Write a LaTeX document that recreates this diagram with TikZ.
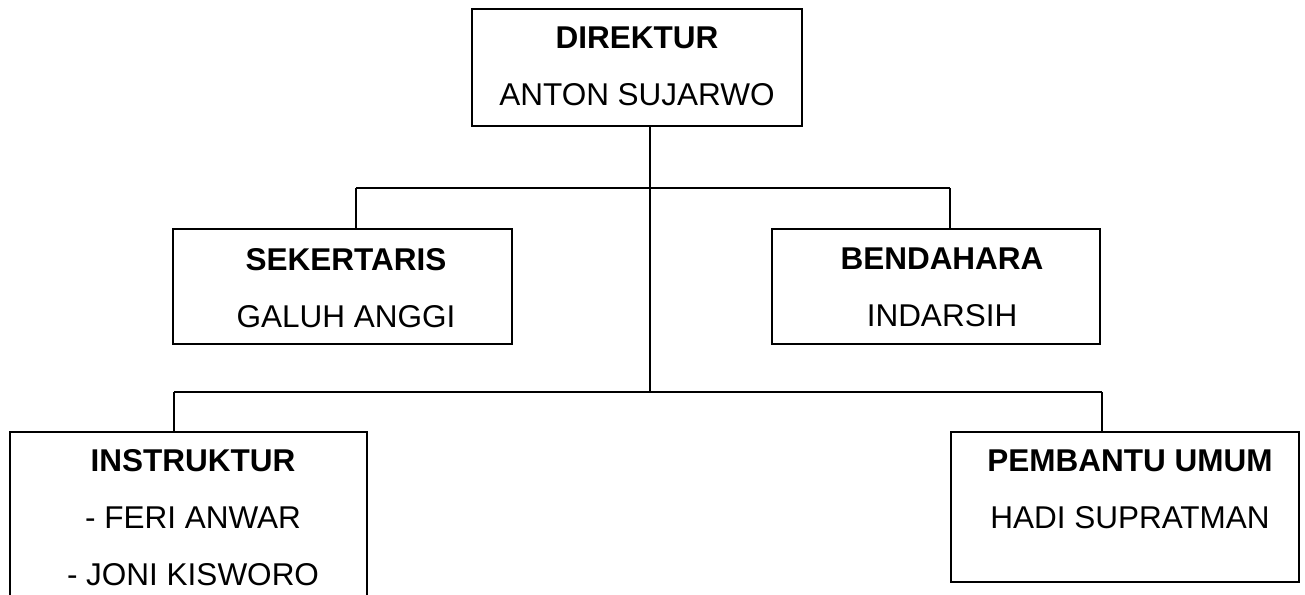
\documentclass[tikz,border=0pt]{standalone}
\usepackage{fontspec}
\setmainfont{Liberation Sans}
\begin{document}
\begin{tikzpicture}[x=1pt,y=-1pt,
  orgbox/.style={draw, line width=1.5pt, rectangle, inner sep=0pt, outer sep=0pt, anchor=north west},
  orgtext/.style={font=\fontsize{31.5}{57}\selectfont, align=center, inner sep=0pt, anchor=north},
  conn/.style={line width=1.5pt}]
\useasboundingbox (0,0) rectangle (1305,594);
% boxes
\node[orgbox, minimum width=330pt, minimum height=117pt] (dir) at (472,9) {};
\node[orgbox, minimum width=339pt, minimum height=115pt] (sek) at (173,229) {};
\node[orgbox, minimum width=328pt, minimum height=115pt] (ben) at (772,229) {};
\node[orgbox, minimum width=357pt, minimum height=200pt] (ins) at (10,432) {};
\node[orgbox, minimum width=348pt, minimum height=150pt] (pem) at (951,432) {};
% texts
\node[orgtext] (tdir) at (637,27) {\textbf{DIREKTUR}\\ANTON SUJARWO};
\node[orgtext] (tsek) at (346,248) {\textbf{SEKERTARIS}\\GALUH ANGGI};
\node[orgtext] (tben) at (942,248) {\textbf{BENDAHARA}\\INDARSIH};
\node[orgtext] (tins) at (193,449) {\textbf{INSTRUKTUR}\\- FERI ANWAR\\- JONI KISWORO};
\node[orgtext] (tpem) at (1130,450) {\textbf{PEMBANTU UMUM}\\HADI SUPRATMAN};
% junctions
\coordinate (jtop) at (650,188);
\coordinate (jbot) at (650,392);
\coordinate (jsek) at (356,188);
\coordinate (jben) at (950,188);
\coordinate (jins) at (174,392);
\coordinate (jpem) at (1102,392);
% connectors
\draw[conn] (dir.south -| jtop) -- (jbot);
\draw[conn] (jsek) -- (jben);
\draw[conn] (jsek) -- (jsek |- sek.north);
\draw[conn] (jben) -- (jben |- ben.north);
\draw[conn] (jins) -- (jpem);
\draw[conn] (jins) -- (jins |- ins.north);
\draw[conn] (jpem) -- (jpem |- pem.north);
\end{tikzpicture}
\end{document}
